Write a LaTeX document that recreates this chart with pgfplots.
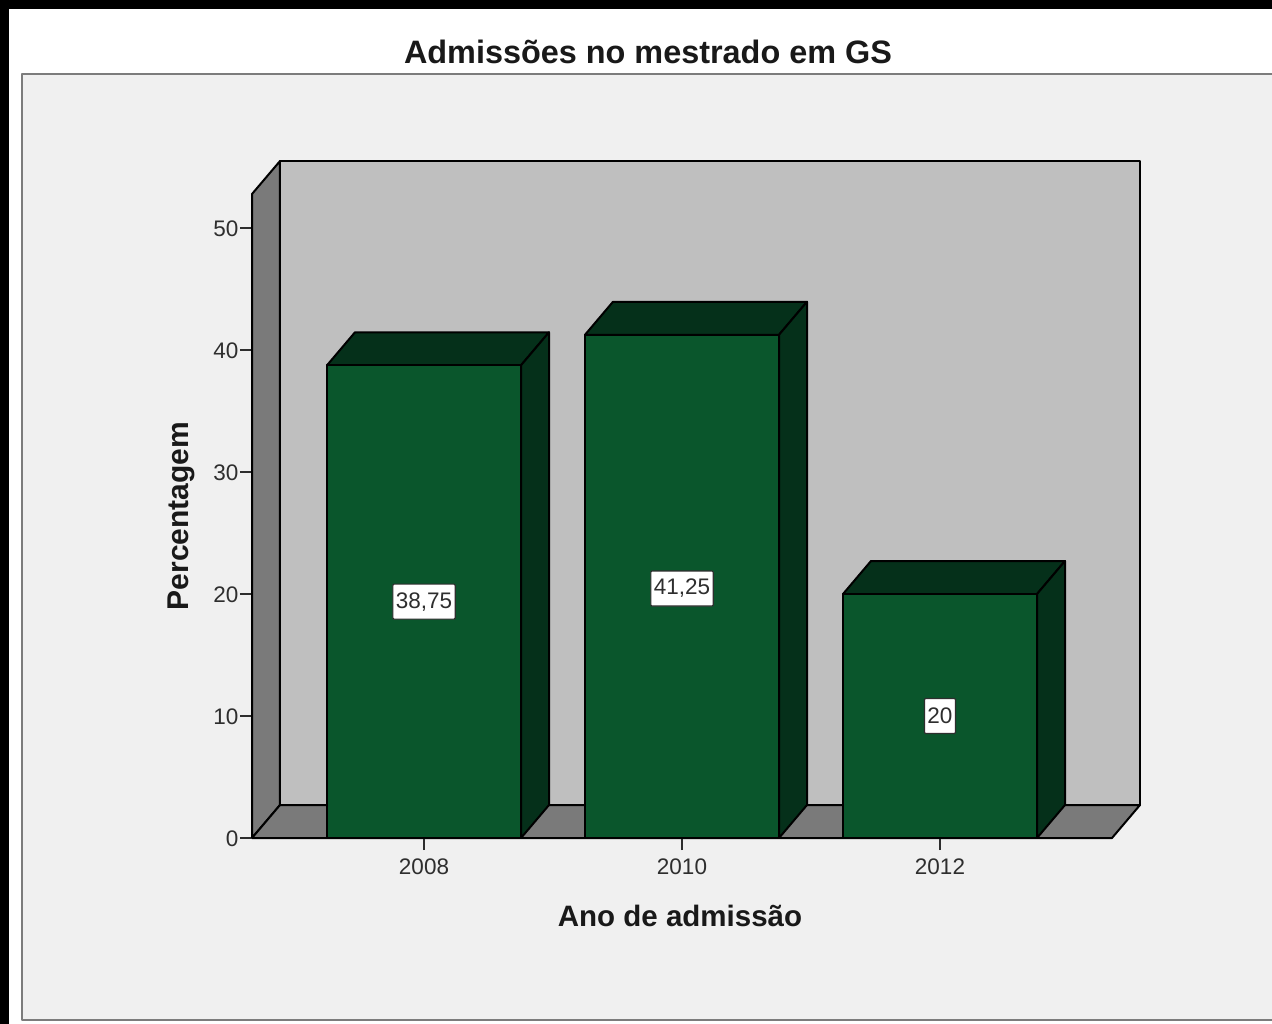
\documentclass[border=0pt]{standalone}
\usepackage{pgfplots}
\usepackage{pgfplotstable}
\usepackage{fontspec}
\setmainfont{Liberation Sans}
\pgfplotsset{compat=1.18}
\definecolor{front}{HTML}{0A562C}
\definecolor{shade}{HTML}{05301A}
\definecolor{wall}{HTML}{BFBFBF}
\definecolor{sidew}{HTML}{7A7A7A}
\definecolor{panel}{HTML}{F0F0F0}
\definecolor{frame}{HTML}{7C7C7C}
\definecolor{ink}{HTML}{2E2E2E}
\pgfplotstableread{
idx value label ypos
0 38.75 38,75 19.375
1 41.25 41,25 20.45
2 20 20 10
}\admissoes
\begin{document}
\begin{tikzpicture}[x=1pt,y=1pt,line join=round]
\useasboundingbox (0,0) rectangle (1272,-1024);
\fill[black] (0,0) rectangle (1272,-1024);
\fill[white] (9,-9) rectangle (1272,-1024);
\fill[panel,draw=frame,line width=2.5pt] (22,-74) rectangle (1290,-1020);
\begin{axis}[
  at={(252pt,-838pt)}, anchor=south west,
  scale only axis, width=860pt, height=644pt,
  xmin=-0.6667, xmax=2.6667, ymin=0, ymax=52.79,
  clip=false,
  axis lines=left,
  axis line style={-,black,line width=2pt},
  axis on top,
  xtick={0,1,2}, xticklabels={2008,2010,2012},
  ytick={0,10,20,30,40,50},
  tick align=outside,
  major tick length=12pt,
  tick style={ink,line width=2pt},
  /pgf/number format/assume math mode=true,
  tick label style={font=\fontsize{22.5}{26}\selectfont, text=ink},
  xticklabel style={yshift=-5pt},
  yticklabel style={xshift=2pt,yshift=-1pt},
  title={\textbf{Admissões no mestrado em GS}},
  title style={at={(axis description cs:0.4605,1.2112)},anchor=center,font=\fontsize{32.4}{36}\selectfont,text=black!90},
  xlabel={\textbf{Ano de admissão}},
  xlabel style={at={(axis description cs:0.4977,-0.1211)},anchor=center,font=\fontsize{29.5}{34}\selectfont,text=black!90},
  ylabel={\textbf{Percentagem}},
  ylabel style={at={(axis description cs:-0.0825,0.5)},anchor=center,rotate=0,font=\fontsize{30}{34}\selectfont,text=black!90},
]
% walls and floor
\addplot[fill=wall,draw=black,line width=2pt] coordinates {(-0.5582,2.705) (2.7752,2.705) (2.7752,55.49) (-0.5582,55.49)} --cycle;
\addplot[fill=sidew,draw=black,line width=2pt] coordinates {(-0.6667,0) (-0.6667,52.79) (-0.5582,55.49) (-0.5582,2.705)} --cycle;
\addplot[fill=sidew,draw=black,line width=2pt] coordinates {(-0.6667,0) (2.6667,0) (2.7752,2.705) (-0.5582,2.705)} --cycle;
% bar 2008
\addplot[fill=shade,draw=black,line width=2pt] coordinates {(-0.376,38.75) (0.376,38.75) (0.4845,41.455) (-0.2675,41.455)} --cycle;
\addplot[fill=shade,draw=black,line width=2pt] coordinates {(0.376,0) (0.376,38.75) (0.4845,41.455) (0.4845,2.705)} --cycle;
% bar 2010
\addplot[fill=shade,draw=black,line width=2pt] coordinates {(0.624,41.25) (1.376,41.25) (1.4845,43.955) (0.7325,43.955)} --cycle;
\addplot[fill=shade,draw=black,line width=2pt] coordinates {(1.376,0) (1.376,41.25) (1.4845,43.955) (1.4845,2.705)} --cycle;
% bar 2012
\addplot[fill=shade,draw=black,line width=2pt] coordinates {(1.624,20) (2.376,20) (2.4845,22.705) (1.7325,22.705)} --cycle;
\addplot[fill=shade,draw=black,line width=2pt] coordinates {(2.376,0) (2.376,20) (2.4845,22.705) (2.4845,2.705)} --cycle;
% fronts
\addplot[ybar,bar width=194pt,fill=front,draw=black,line width=2pt] table[x=idx,y=value] {\admissoes};
% value labels
\addplot[draw=none,mark=none,
  nodes near coords,
  point meta=explicit symbolic,
  every node near coord/.style={anchor=center,fill=white,draw=ink,line width=1.2pt,
    font=\fontsize{22.5}{26}\selectfont,text=ink,inner xsep=3pt,inner ysep=0pt,minimum height=35pt,rounded corners=1pt},
] table[x=idx,y=ypos,meta=label] {\admissoes};
\end{axis}
\end{tikzpicture}
\end{document}
